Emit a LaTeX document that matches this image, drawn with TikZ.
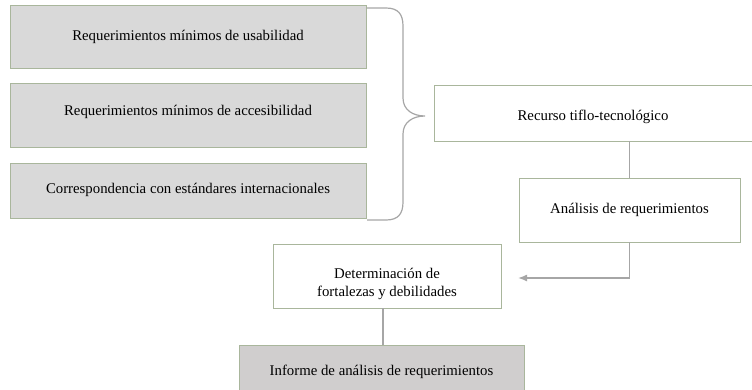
\documentclass[tikz,border=0pt]{standalone}
\usepackage{fontspec}
\setmainfont{Liberation Serif}
\usetikzlibrary{arrows.meta}
\definecolor{boxedge}{HTML}{A9B69C}
\definecolor{lightfill}{HTML}{D9D9D9}
\definecolor{darkfill}{HTML}{D0CECE}
\definecolor{linkgray}{HTML}{A6A6A6}
\begin{document}
\begin{tikzpicture}[x=1pt,y=-1pt,
  boxbase/.style={draw=boxedge, line width=0.9pt, inner sep=0pt},
  graybox/.style={boxbase, fill=lightfill},
  whitebox/.style={boxbase, fill=white},
  informebox/.style={boxbase, fill=darkfill},
  label/.style={inner sep=0pt, font=\fontsize{14.8}{18}\selectfont, align=center},
  link/.style={draw=linkgray, line width=1.4pt},
  bracestyle/.style={draw=linkgray, line width=1.2pt}]
\useasboundingbox (0,0) rectangle (752,389);
\node[graybox, minimum width=356pt, minimum height=63pt] (u) at (188,36.5) {};
\node[label] (ut) at (188,36.5) {Requerimientos mínimos de usabilidad};
\node[graybox, minimum width=356pt, minimum height=64pt] (a) at (188,115) {};
\node[label] (at) at (188,112) {Requerimientos mínimos de accesibilidad};
\node[graybox, minimum width=356pt, minimum height=55pt] (c) at (188,190.5) {};
\node[label] (ct) at (188,189.5) {Correspondencia con estándares internacionales};
\node[whitebox, minimum width=330pt, minimum height=56pt] (r) at (599,113) {};
\node[label] (rt) at (593,117) {Recurso tiflo-tecnológico};
\node[whitebox, minimum width=221pt, minimum height=64pt] (an) at (629.5,210) {};
\node[label] (ant) at (629.5,210) {Análisis de requerimientos};
\node[whitebox, minimum width=228pt, minimum height=64pt] (d) at (387,276) {};
\node[label] (dt) at (387,284) {Determinación de\\fortalezas y debilidades};
\node[informebox, minimum width=285pt, minimum height=60pt] (i) at (381.5,375) {};
\node[label] (it) at (381.5,372) {Informe de análisis de requerimientos};
\coordinate (bt) at (367,8);
\coordinate (bb) at (367,220);
\coordinate (bp) at (425,116);
\draw[bracestyle] (bt) -- (386,8) .. controls (398,8) and (403,14) .. (403,26)
  -- (403,98) .. controls (403,110) and (413,116) .. (bp)
  .. controls (413,116) and (403,122) .. (403,134)
  -- (403,202) .. controls (403,214) and (398,220) .. (386,220) -- (bb);
\draw[link] (r.south -| an.north) -- (an.north);
\coordinate (turn) at (an.south |- 0,278);
\coordinate (tip) at (518,278);
\draw[link, -{Latex[length=9pt,width=7pt]}] (an.south) -- (turn) -- (tip);
\draw[link] (d.south -| 383,0) -- (i.north -| 383,0);
\end{tikzpicture}
\end{document}
